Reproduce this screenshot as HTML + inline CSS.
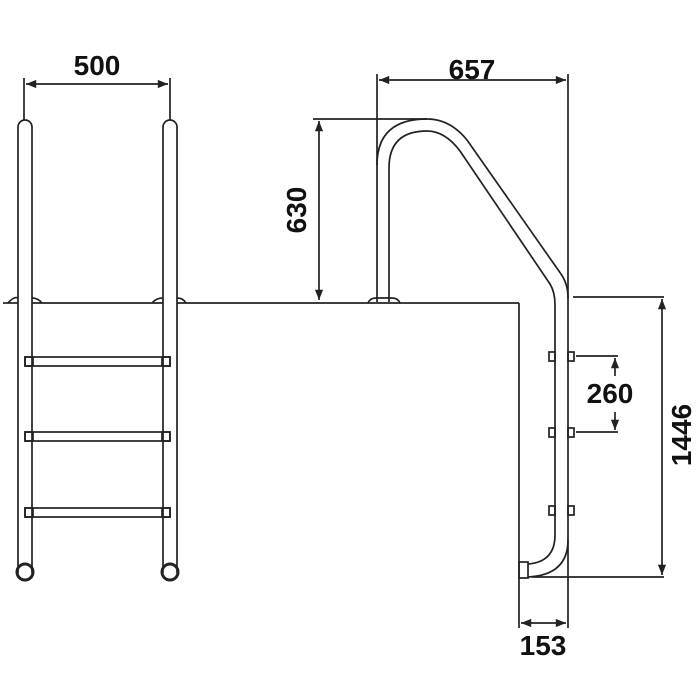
<!DOCTYPE html>
<html><head><meta charset="utf-8"><style>
html,body{margin:0;padding:0;background:#fff;}
svg{display:block;}
text{font-family:"Liberation Sans",sans-serif;font-weight:bold;font-size:28px;fill:#111;}
</style></head><body>
<svg width="700" height="700" viewBox="0 0 700 700" xmlns="http://www.w3.org/2000/svg">
<defs>
<marker id="a" viewBox="0 0 10 10" refX="10" refY="5" markerWidth="7" markerHeight="6" orient="auto-start-reverse"><path d="M0,1 L10,5 L0,9 z" fill="#222"/></marker>
</defs>
<g stroke="#222" stroke-width="1.7" fill="none">
<!-- left ladder -->
<line x1="24" y1="78" x2="24" y2="120"/>
<line x1="170" y1="78" x2="170" y2="120"/>
<line x1="26" y1="84" x2="168" y2="84" marker-start="url(#a)" marker-end="url(#a)"/>
<path d="M18,573 L18,127 A7,7 0 0 1 32,127 L32,573"/>
<path d="M163,573 L163,127 A7,7 0 0 1 177,127 L177,573"/>
<circle cx="25" cy="572" r="8" stroke-width="3"/>
<circle cx="170" cy="572" r="8" stroke-width="3"/>
<line x1="3" y1="303" x2="18" y2="303"/>
<path d="M8,303 Q14,296 18,298"/><path d="M32,298 Q38,298 42,303"/>
<path d="M152,303 Q156,298 163,298"/><path d="M177,298 Q183,298 186,303"/>
<line x1="32" y1="303" x2="163" y2="303"/>
<line x1="177" y1="303" x2="519" y2="303"/>
<rect x="25" y="357" width="145" height="9"/>
<rect x="25" y="357" width="8" height="9"/><rect x="162" y="357" width="8" height="9"/>
<rect x="25" y="432" width="145" height="9"/>
<rect x="25" y="432" width="8" height="9"/><rect x="162" y="432" width="8" height="9"/>
<rect x="25" y="508" width="145" height="9"/>
<rect x="25" y="508" width="8" height="9"/><rect x="162" y="508" width="8" height="9"/>
<!-- wall -->
<line x1="519" y1="303" x2="519" y2="628"/>
<!-- handrail -->
<path d="M377,302 L377,165 Q377,119 427,119 Q450,119 467,140 L561,274 Q568,284 568,298 L568,540 Q568,575 528,577"/>
<path d="M389,302 L389,168 Q389,131 427,131 Q445,131 460,151 L550,284 Q555,292 555,305 L555,535 Q555,562 528,564"/>
<path d="M368,303 Q370,298 376,298 L392,298 Q398,298 400,303"/>
<rect x="519" y="562" width="9" height="16"/>
<!-- brackets -->
<rect x="549" y="352" width="6" height="9"/><rect x="568" y="352" width="6" height="9"/>
<rect x="549" y="428" width="6" height="9"/><rect x="568" y="428" width="6" height="9"/>
<rect x="549" y="506" width="6" height="9"/><rect x="568" y="506" width="6" height="9"/>
<!-- 657 -->
<line x1="377" y1="74" x2="377" y2="165"/>
<line x1="568" y1="74" x2="568" y2="298"/>
<line x1="568" y1="540" x2="568" y2="628"/>
<line x1="379" y1="80" x2="566" y2="80" marker-start="url(#a)" marker-end="url(#a)"/>
<!-- 630 -->
<line x1="313" y1="119" x2="427" y2="119"/>
<line x1="319" y1="121" x2="319" y2="300" marker-start="url(#a)" marker-end="url(#a)"/>
<!-- 1446 -->
<line x1="573" y1="297" x2="664" y2="297"/>
<line x1="532" y1="577" x2="664" y2="577"/>
<line x1="662" y1="299" x2="662" y2="575" marker-start="url(#a)" marker-end="url(#a)"/>
<!-- 260 -->
<line x1="576" y1="356" x2="618" y2="356"/>
<line x1="576" y1="432" x2="618" y2="432"/>
<line x1="615" y1="358" x2="615" y2="376" marker-start="url(#a)"/>
<line x1="615" y1="412" x2="615" y2="430" marker-end="url(#a)"/>
<!-- 153 -->
<line x1="521" y1="623" x2="566" y2="623" marker-start="url(#a)" marker-end="url(#a)"/>
</g>
<text x="97" y="75" text-anchor="middle">500</text>
<text x="472" y="79" text-anchor="middle">657</text>
<text transform="translate(306,210) rotate(-90)" text-anchor="middle">630</text>
<text x="610" y="403" text-anchor="middle">260</text>
<text transform="translate(691,435) rotate(-90)" text-anchor="middle">1446</text>
<text x="543" y="655" text-anchor="middle">153</text>
</svg>
</body></html>
